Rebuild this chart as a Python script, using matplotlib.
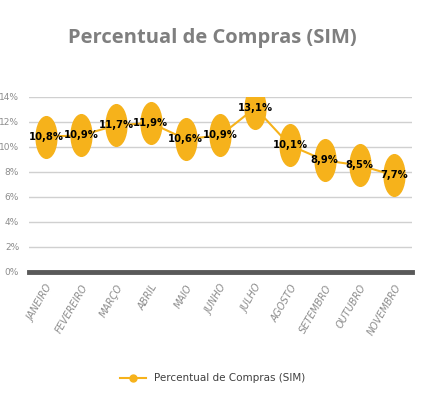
import matplotlib.pyplot as plt
from matplotlib.path import Path
from matplotlib.transforms import Affine2D
from matplotlib.ticker import FuncFormatter

# Data
meses = ["JANEIRO", "FEVEREIRO", "MARÇO", "ABRIL", "MAIO", "JUNHO",
         "JULHO", "AGOSTO", "SETEMBRO", "OUTUBRO", "NOVEMBRO"]
percentual = [10.8, 10.9, 11.7, 11.9, 10.6, 10.9, 13.1, 10.1, 8.9, 8.5, 7.7]
rotulos = ["10,8%", "10,9%", "11,7%", "11,9%", "10,6%", "10,9%",
           "13,1%", "10,1%", "8,9%", "8,5%", "7,7%"]

cor = "#F6B21B"
fam = ["DejaVu Sans"]

fig = plt.figure(figsize=(4.25, 3.96), dpi=100)
ax = fig.add_axes([0.068, 0.314, 0.901, 0.442])

# elliptical marker (taller than wide)
elipse = Path.unit_circle().transformed(Affine2D().scale(0.5, 1.0))

x = list(range(len(meses)))
ax.plot(x, percentual, color=cor, linewidth=1.5, marker=elipse,
        markersize=30, markerfacecolor=cor, markeredgecolor=cor, zorder=3)

for xi, yi, r in zip(x, percentual, rotulos):
    ax.text(xi, yi, r, ha="center", va="center", fontsize=7.2,
            fontweight="bold", family=fam, color="black", zorder=4)

ax.set_xlim(-0.5, len(meses) - 0.5)
ax.set_ylim(0, 14)
ax.set_yticks(range(0, 15, 2))
ax.yaxis.set_major_formatter(FuncFormatter(lambda v, p: f"{int(v)}%"))
ax.grid(axis="y", color="#d0d0d0", linewidth=1)
ax.set_axisbelow(True)
for s in ["top", "right", "left"]:
    ax.spines[s].set_visible(False)
ax.spines["bottom"].set_color("#595959")
ax.spines["bottom"].set_linewidth(3.5)
ax.tick_params(axis="both", length=0, colors="#8c8c8c")
ax.tick_params(axis="y", labelsize=6.5, pad=7)
ax.set_xticks(x)
ax.set_xticklabels(meses, rotation=60, ha="right", rotation_mode="anchor",
                   fontsize=7, style="italic", family=fam, color="#8c8c8c")
ax.tick_params(axis="x", pad=8)

fig.text(0.5, 0.905, "Percentual de Compras (SIM)", ha="center", va="center",
         fontsize=14.5, fontweight="bold", color="#7f7f7f",
         family=["Open Sans", "DejaVu Sans"])

# legend
h, = ax.plot([], [], color=cor, linewidth=1.5, marker="o", markersize=5)
fig.legend([h], ["Percentual de Compras (SIM)"], loc="center",
           bbox_to_anchor=(0.5, 0.045), frameon=False, handlelength=2.5,
           prop={"family": fam, "size": 7.5}, labelcolor="#404040")

fig.savefig("out.png", dpi=100)
